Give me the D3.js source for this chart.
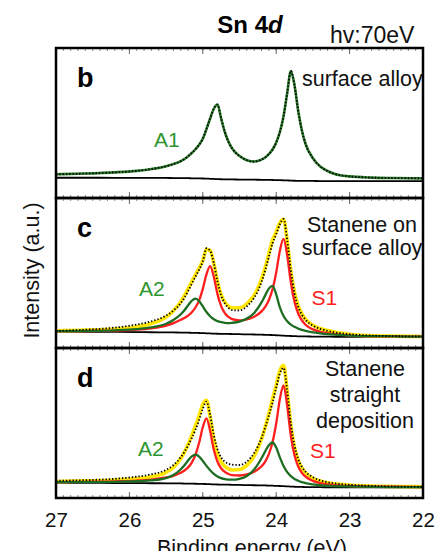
<!DOCTYPE html>
<html>
<head>
<meta charset="utf-8">
<script src="https://cdn.jsdelivr.net/npm/d3@7"></script>
<style>
  body { margin: 0; background: #fff; }
  svg { display: block; font-family: "Liberation Sans", Arial, Helvetica, sans-serif; }
</style>
</head>
<body>
<div id="chart"></div>
<script>
// binding energy grid (eV) shared by all spectra
var bindingEnergy = [27.0, 26.6, 26.2, 25.9, 25.7, 25.5, 25.4, 25.3, 25.25, 25.2, 25.15, 25.1, 25.05, 25.0,
  24.95, 24.9, 24.85, 24.8, 24.75, 24.7, 24.65, 24.6, 24.5, 24.4, 24.3, 24.2, 24.15, 24.1, 24.05, 24.0,
  23.95, 23.9, 23.85, 23.8, 23.75, 23.7, 23.65, 23.6, 23.5, 23.4, 23.3, 23.2, 23.0, 22.7, 22.4, 22.0];

// panel b : surface alloy (measured and A1 fit coincide)
var alloyB = [15.8, 16.3, 17.1, 18.1, 19.3, 21.2, 22.6, 24.6, 26.0, 27.8, 30.0, 32.5, 35.5, 39.5,
  46.0, 53.0, 59.5, 62.3, 53.0, 44.0, 37.5, 33.0, 28.0, 25.2, 24.3, 25.6, 27.0, 29.2, 32.3, 37.0,
  44.0, 54.5, 70.0, 84.7, 75.0, 58.0, 45.0, 36.0, 26.5, 21.0, 18.0, 16.0, 14.4, 13.6, 13.3, 13.1];
var backgroundB = [13.5, 13.5, 13.45, 13.4, 13.4, 13.35, 13.3, 13.25, 13.2, 13.2, 13.15, 13.1, 13.05, 13.0,
  12.9, 12.8, 12.7, 12.6, 12.5, 12.45, 12.4, 12.35, 12.3, 12.25, 12.2, 12.15, 12.1, 12.05, 12.0, 11.95,
  11.9, 11.8, 11.7, 11.6, 11.5, 11.45, 11.4, 11.4, 11.35, 11.3, 11.3, 11.3, 11.3, 11.3, 11.3, 11.3];

// panel c : stanene on surface alloy
var measuredC = [11.4, 12.2, 13.6, 15.6, 17.8, 21.6, 25.0, 29.8, 33.5, 38.0, 42.8, 47.6, 52.2, 57.6,
  66.5, 64.8, 56.5, 44.5, 35.0, 29.8, 26.8, 25.3, 25.0, 27.8, 33.5, 44.0, 51.8, 60.8, 69.8, 75.8,
  82.5, 86.0, 72.0, 51.5, 36.5, 27.5, 22.2, 18.8, 14.9, 12.8, 11.4, 10.4, 9.2, 8.3, 7.9, 7.7];
var envelopeC = [11.5, 11.9, 12.7, 14.2, 16.3, 20.7, 24.9, 30.9, 34.9, 39.6, 44.2, 48.8, 53.3, 58.3,
  65.8, 65.0, 56.5, 44.3, 35.6, 30.6, 27.9, 26.7, 26.8, 29.5, 35.2, 45.9, 53.7, 62.9, 71.9, 77.5,
  83.5, 85.8, 71.3, 51.1, 36.9, 28.1, 22.8, 19.2, 15.1, 13.0, 11.6, 10.6, 9.1, 8.2, 7.9, 7.7];
var s1C = [11.2, 11.3, 11.6, 12.2, 13.1, 14.9, 16.6, 18.8, 20.0, 21.6, 23.8, 27.0, 31.8, 39.4,
  49.1, 54.6, 47.5, 35.9, 27.9, 23.2, 20.7, 19.2, 18.4, 19.0, 20.8, 24.4, 27.4, 32.0, 39.1, 50.3,
  64.8, 72.7, 61.6, 43.5, 30.7, 23.0, 18.5, 15.5, 12.4, 10.8, 9.9, 9.2, 8.3, 7.9, 7.7, 7.6];
var a2C = [11.2, 11.35, 11.8, 12.6, 13.7, 16.2, 18.7, 22.5, 25.2, 28.5, 31.5, 32.9, 31.3, 27.7,
  24.0, 21.2, 19.2, 17.9, 17.2, 16.8, 16.6, 16.8, 17.6, 19.6, 23.4, 30.4, 35.1, 39.6, 41.4, 35.7,
  27.1, 21.3, 17.8, 15.6, 14.1, 12.9, 12.1, 11.4, 10.4, 9.8, 9.3, 8.9, 8.3, 7.9, 7.7, 7.6];
var backgroundC = [10.9, 10.8, 10.7, 10.6, 10.5, 10.4, 10.35, 10.3, 10.25, 10.2, 10.15, 10.1, 10.0, 9.9,
  9.8, 9.7, 9.6, 9.5, 9.45, 9.4, 9.35, 9.3, 9.2, 9.1, 9.0, 8.9, 8.8, 8.7, 8.6, 8.5,
  8.4, 8.2, 8.1, 8.0, 7.9, 7.8, 7.75, 7.7, 7.65, 7.6, 7.55, 7.5, 7.5, 7.5, 7.5, 7.5];

// panel d : stanene straight deposition
var measuredD = [11.5, 11.9, 12.8, 14.2, 15.8, 18.8, 22.0, 27.2, 30.8, 35.0, 40.0, 45.5, 52.0, 59.5,
  64.3, 55.5, 42.0, 32.5, 27.0, 24.2, 22.8, 22.2, 22.0, 24.3, 30.0, 40.0, 47.0, 55.0, 63.5, 73.5,
  83.0, 86.8, 71.5, 49.5, 34.8, 26.0, 20.8, 17.5, 13.8, 11.8, 10.5, 9.7, 8.8, 8.1, 7.7, 7.5];
var envelopeD = [11.0, 11.4, 12.0, 13.0, 14.2, 17.1, 20.3, 26.3, 30.6, 35.8, 41.8, 48.2, 55.0, 62.5,
  65.2, 54.0, 39.2, 29.5, 24.1, 21.1, 19.4, 18.7, 19.0, 21.8, 28.0, 39.2, 47.1, 56.2, 66.0, 75.2,
  84.9, 88.4, 71.0, 48.2, 33.6, 25.1, 20.0, 16.8, 13.2, 11.3, 10.1, 9.4, 8.6, 8.0, 7.7, 7.5];
var s1D = [10.6, 10.8, 11.1, 11.6, 12.3, 13.7, 14.8, 16.8, 18.3, 20.4, 23.6, 28.8, 36.8, 47.2,
  53.1, 44.7, 32.1, 24.2, 19.8, 17.4, 16.0, 15.3, 15.0, 15.7, 17.5, 21.1, 24.3, 29.3, 37.2, 49.7,
  65.9, 75.0, 61.5, 41.3, 28.3, 21.0, 16.8, 14.2, 11.4, 9.9, 9.1, 8.6, 8.0, 7.6, 7.5, 7.3];
var a2D = [10.6, 10.6, 10.8, 11.2, 11.7, 13.2, 15.3, 19.2, 21.9, 25.0, 27.7, 28.9, 27.6, 24.7,
  21.4, 18.5, 16.1, 14.4, 13.3, 12.6, 12.3, 12.2, 12.8, 14.7, 19.0, 26.5, 31.1, 35.2, 37.0, 33.6,
  27.1, 21.4, 17.3, 14.6, 12.7, 11.5, 10.6, 9.9, 9.1, 8.5, 8.2, 7.9, 7.7, 7.4, 7.3, 7.3];
var backgroundD = [10.2, 10.1, 10.0, 9.9, 9.85, 9.8, 9.75, 9.7, 9.65, 9.6, 9.55, 9.5, 9.45, 9.4,
  9.3, 9.2, 9.1, 9.0, 8.95, 8.9, 8.85, 8.8, 8.7, 8.6, 8.5, 8.4, 8.35, 8.3, 8.2, 8.1,
  8.0, 7.9, 7.75, 7.6, 7.5, 7.4, 7.35, 7.3, 7.25, 7.2, 7.15, 7.1, 7.1, 7.1, 7.1, 7.1];

var energyTicks = [27, 26, 25, 24, 23, 22];

var width = 439, height = 551;
var plotLeft = 56, plotRight = 423, panelH = 150;
var yellow = '#ffe600', red = '#ff1e1e', darkGreen = '#1d6e22', labelGreen = '#2e962e';

var svg = d3.select('#chart').append('svg')
  .attr('width', width)
  .attr('height', height);

var x = d3.scaleLinear().domain([27, 22]).range([plotLeft, plotRight]);

var panels = [
  {
    top: 48, letter: 'b',
    curves: [
      {values: backgroundB, color: '#000', width: 1.8},
      {values: alloyB, color: '#2a7a2a', width: 2.6},
      {values: alloyB, color: '#000', width: 1.8, dash: '1.4,1.9'}
    ],
    caption: [{text: 'surface alloy', x: 302, y: 38, anchor: 'start'}],
    tags: [{text: 'A1', x: 154, y: 98.7, color: labelGreen}]
  },
  {
    top: 198, letter: 'c',
    curves: [
      {values: backgroundC, color: '#000', width: 1.8},
      {values: envelopeC, color: yellow, width: 3.6},
      {values: s1C, color: red, width: 2.3},
      {values: a2C, color: darkGreen, width: 2.3},
      {values: measuredC, color: '#000', width: 1.8, dash: '1.4,1.9'}
    ],
    caption: [
      {text: 'Stanene on', x: 362, y: 33.7, anchor: 'middle'},
      {text: 'surface alloy', x: 362, y: 57, anchor: 'middle'}
    ],
    tags: [{text: 'A2', x: 139, y: 98, color: labelGreen}, {text: 'S1', x: 311.5, y: 107, color: red}]
  },
  {
    top: 348, letter: 'd',
    curves: [
      {values: backgroundD, color: '#000', width: 1.8},
      {values: envelopeD, color: yellow, width: 3.6},
      {values: s1D, color: red, width: 2.3},
      {values: a2D, color: darkGreen, width: 2.3},
      {values: measuredD, color: '#000', width: 1.8, dash: '1.4,1.9'}
    ],
    caption: [
      {text: 'Stanene', x: 365, y: 28, anchor: 'middle'},
      {text: 'straight', x: 365, y: 54, anchor: 'middle'},
      {text: 'deposition', x: 365, y: 80, anchor: 'middle'}
    ],
    tags: [{text: 'A2', x: 138, y: 108, color: labelGreen}, {text: 'S1', x: 310, y: 110.3, color: red}]
  }
];

panels.forEach(function (p) {
  var bottom = p.top + panelH;
  var y = d3.scaleLinear().domain([0, 100]).range([bottom, p.top]);
  var g = svg.append('g');

  var line = d3.line()
    .x(function (d, i) { return x(bindingEnergy[i]); })
    .y(function (d) { return y(d); })
    .curve(d3.curveMonotoneX);

  p.curves.forEach(function (c) {
    g.append('path')
      .datum(c.values)
      .attr('d', line)
      .attr('fill', 'none')
      .attr('stroke', c.color)
      .attr('stroke-width', c.width)
      .attr('stroke-linejoin', 'round')
      .attr('stroke-dasharray', c.dash || null);
  });

  // minor (0.1 eV) and major (1 eV) ticks, inside top and bottom
  var minor = x.ticks(50), major = x.ticks(5);
  [[minor, 3, '#8a8a8a'], [major, 6, '#666']].forEach(function (t) {
    g.selectAll(null).data(t[0]).enter().append('line')
      .attr('x1', function (d) { return x(d); }).attr('x2', function (d) { return x(d); })
      .attr('y1', bottom).attr('y2', bottom - t[1])
      .attr('stroke', t[2]).attr('stroke-width', 1);
    g.selectAll(null).data(t[0]).enter().append('line')
      .attr('x1', function (d) { return x(d); }).attr('x2', function (d) { return x(d); })
      .attr('y1', p.top).attr('y2', p.top + t[1])
      .attr('stroke', t[2]).attr('stroke-width', 1);
  });

  g.append('rect')
    .attr('x', plotLeft).attr('y', p.top)
    .attr('width', plotRight - plotLeft).attr('height', panelH)
    .attr('fill', 'none').attr('stroke', '#000').attr('stroke-width', 2.5);

  g.append('text')
    .attr('x', 77).attr('y', p.top + 39)
    .attr('font-size', 27).attr('font-weight', 'bold')
    .text(p.letter);

  p.caption.forEach(function (c) {
    g.append('text')
      .attr('x', c.x).attr('y', p.top + c.y)
      .attr('text-anchor', c.anchor)
      .attr('font-size', 21.5).attr('fill', '#111')
      .text(c.text);
  });

  p.tags.forEach(function (t) {
    g.append('text')
      .attr('x', t.x).attr('y', p.top + t.y)
      .attr('font-size', 21).attr('fill', t.color)
      .text(t.text);
  });
});

// energy axis labels under the last panel
var axis = d3.axisBottom(x).tickValues(energyTicks).tickSize(0).tickPadding(14).tickFormat(d3.format('d'));
var ax = svg.append('g').attr('transform', 'translate(0,498)').call(axis);
ax.select('.domain').remove();
ax.selectAll('text').attr('font-size', 20.5).attr('fill', '#111').attr('font-family', null);

svg.append('text')
  .attr('x', 252).attr('y', 555)
  .attr('text-anchor', 'middle').attr('font-size', 21.5).attr('fill', '#111')
  .text('Binding energy (eV)');

svg.append('text')
  .attr('transform', 'translate(39,270.5) rotate(-90)')
  .attr('text-anchor', 'middle').attr('font-size', 21.5).attr('fill', '#111')
  .text('Intensity (a.u.)');

var title = svg.append('text')
  .attr('x', 250).attr('y', 33)
  .attr('text-anchor', 'middle').attr('font-size', 24).attr('font-weight', 'bold');
title.append('tspan').text('Sn 4');
title.append('tspan').attr('font-style', 'italic').text('d');

svg.append('text')
  .attr('x', 330).attr('y', 42.7)
  .attr('font-size', 23).attr('fill', '#111')
  .text('hv:70eV');
</script>
